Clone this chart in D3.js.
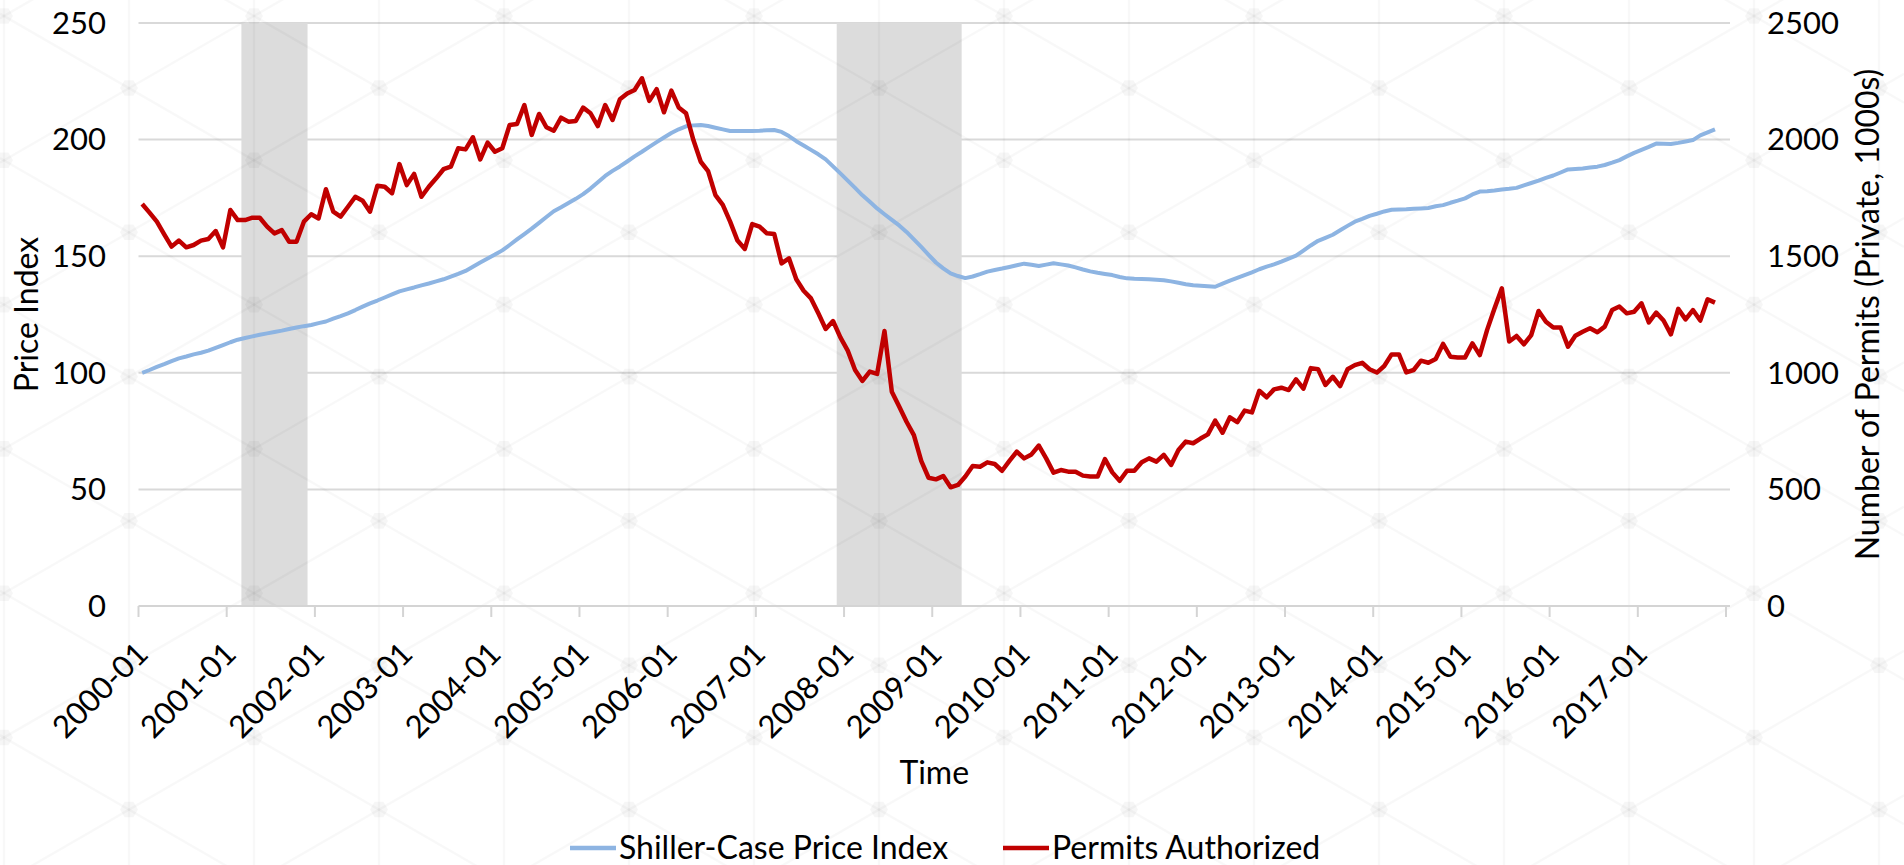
<!DOCTYPE html>
<html lang="en">
<head>
<meta charset="UTF-8">
<title>Shiller-Case Price Index vs Permits Authorized</title>
<style>
  body { margin: 0; background: #fff; }
  svg { display: block; font-family: Lato, "Noto Sans", sans-serif; }
  .tick-label { font-size: 31px; fill: #000; }
  .title { font-size: 32px; fill: #000; }
</style>
</head>
<body>
<svg width="1904" height="865"></svg>
<script src="https://d3js.org/d3.v7.min.js"></script>
<script>
const width = 1904, height = 865;

// monthly categories 2000-01 .. 2017-12 (last month has no data)
const months = [];
for (let y = 2000; y <= 2017; y++)
  for (let m = 1; m <= 12; m++) months.push(`${y}-${String(m).padStart(2, "0")}`);

// Shiller-Case price index (Jan 2000 = 100)
const priceIndex = [
  100.0, 101.2, 102.5, 103.7, 105.0, 106.2, 107.0, 107.9, 108.6, 109.5, 110.7, 111.9,
  113.1, 114.2, 114.9, 115.6, 116.3, 116.9, 117.5, 118.1, 118.8, 119.4, 120.0, 120.5,
  121.3, 122.0, 123.2, 124.3, 125.5, 126.9, 128.4, 129.8, 131.0, 132.3, 133.6, 134.9,
  135.8, 136.6, 137.5, 138.3, 139.2, 140.1, 141.2, 142.4, 143.7, 145.5, 147.3, 149.0,
  150.7, 152.5, 154.8, 157.2, 159.5, 161.8, 164.3, 166.8, 169.3, 171.0, 172.8, 174.6,
  176.6, 179.0, 181.7, 184.4, 186.6, 188.5, 190.6, 192.8, 194.8, 196.9, 198.9, 200.9,
  202.8, 204.4, 205.7, 206.1, 206.3, 205.8, 205.1, 204.4, 203.7, 203.7, 203.7, 203.7,
  203.8, 204.0, 204.1, 203.3, 201.5, 199.3, 197.5, 195.6, 193.7, 191.5, 188.5, 185.5,
  182.4, 179.3, 176.1, 173.3, 170.5, 168.0, 165.6, 163.2, 160.4, 157.2, 154.0, 150.6,
  147.3, 144.8, 142.6, 141.5, 140.6, 141.3, 142.3, 143.4, 144.1, 144.7, 145.4, 146.1,
  146.8, 146.3, 145.8, 146.4, 147.0, 146.5, 146.0, 145.2, 144.3, 143.5, 142.9, 142.4,
  141.9, 141.1, 140.5, 140.3, 140.2, 140.1, 139.9, 139.7, 139.2, 138.6, 138.0, 137.5,
  137.3, 137.1, 136.9, 138.2, 139.5, 140.7, 141.9, 143.1, 144.4, 145.5, 146.5, 147.7,
  149.0, 150.2, 152.4, 154.6, 156.6, 157.9, 159.2, 161.1, 163.0, 164.8, 166.0, 167.3,
  168.2, 169.2, 169.9, 170.0, 170.1, 170.3, 170.5, 170.7, 171.4, 171.9, 172.9, 173.8,
  174.8, 176.5, 177.7, 177.9, 178.2, 178.6, 178.9, 179.3, 180.4, 181.4, 182.4, 183.6,
  184.6, 185.9, 187.2, 187.4, 187.6, 188.0, 188.4, 189.1, 190.1, 191.2, 192.8, 194.3,
  195.6, 196.9, 198.3, 198.2, 198.1, 198.6, 199.2, 199.8, 201.8, 203.1, 204.4
];

// private housing permits authorized (thousands)
const permits = [
  1724, 1687, 1648, 1594, 1541, 1567, 1538, 1548, 1567, 1574, 1608, 1538,
  1698, 1655, 1655, 1665, 1665, 1627, 1598, 1612, 1562, 1562, 1648, 1680,
  1662, 1787, 1691, 1670, 1712, 1755, 1738, 1691, 1802, 1798, 1770, 1895,
  1805, 1853, 1755, 1798, 1834, 1873, 1884, 1963, 1958, 2010, 1915, 1987,
  1948, 1963, 2063, 2067, 2148, 2020, 2110, 2053, 2038, 2094, 2077, 2080,
  2137, 2113, 2058, 2148, 2084, 2173, 2198, 2213, 2263, 2166, 2216, 2117,
  2210, 2138, 2113, 1998, 1905, 1865, 1762, 1720, 1648, 1567, 1531, 1638,
  1627, 1598, 1595, 1469, 1491, 1401, 1352, 1319, 1255, 1188, 1222, 1152,
  1095, 1012, 965, 1005, 995, 1179, 919, 855, 790, 733, 622, 550,
  543, 557, 509, 519, 555, 600, 597, 616, 609, 580, 622, 662,
  633, 650, 688, 633, 572, 583, 576, 576, 559, 555, 555, 630,
  573, 537, 580, 580, 616, 633, 619, 648, 605, 669, 705, 698,
  718, 736, 795, 743, 809, 788, 838, 830, 923, 895, 929, 936,
  926, 972, 932, 1020, 1015, 948, 983, 943, 1015, 1033, 1043, 1015,
  1001, 1029, 1079, 1079, 1002, 1012, 1052, 1043, 1059, 1124, 1069, 1066,
  1066, 1126, 1076, 1184, 1276, 1362, 1134, 1158, 1122, 1162, 1265, 1219,
  1194, 1194, 1112, 1159, 1176, 1191, 1174, 1198, 1269, 1284, 1255, 1262,
  1298, 1216, 1258, 1224, 1165, 1274, 1229, 1269, 1224, 1315, 1301
];

const recessions = [["2001-03", "2001-11"], ["2007-12", "2009-04"]];
const leftTicks = [0, 50, 100, 150, 200, 250];
const rightTicks = [0, 500, 1000, 1500, 2000, 2500];
const seriesNames = ["Shiller-Case Price Index", "Permits Authorized"];
const seriesColors = ["#8db4e2", "#c00000"];

const svg = d3.select("svg");

const x = d3.scaleBand().domain(months).range([138.5, 1726]).padding(0);
const yL = d3.scaleLinear().domain([0, 250]).range([606, 23]);
const yR = d3.scaleLinear().domain([0, 2500]).range([606, 23]);
const plotRight = 1730;

// gridlines
svg.append("g").selectAll("line")
    .data(leftTicks.filter(t => t > 0))
    .enter().append("line")
    .attr("x1", x.range()[0]).attr("x2", plotRight)
    .attr("y1", d => yL(d)).attr("y2", d => yL(d))
    .attr("stroke", "#d9d9d9").attr("stroke-width", 2);

// recession shading
svg.append("g").selectAll("rect")
    .data(recessions)
    .enter().append("rect")
    .attr("x", d => x(d[0]))
    .attr("width", d => x(d[1]) + x.bandwidth() - x(d[0]))
    .attr("y", yL(250))
    .attr("height", yL(0) - yL(250))
    .attr("fill", "#dcdcdc");

// faint triangular watermark lattice
const bg = svg.append("g").attr("pointer-events", "none");
const colW = 125, rowH = 144.3, slope = (rowH / 2) / colW;
const lineOpacity = 0.028;
for (let cx = 4 - colW; cx < width + colW; cx += colW) {
    bg.append("line").attr("x1", cx).attr("x2", cx).attr("y1", 0).attr("y2", height)
        .attr("stroke", "#000").attr("stroke-opacity", lineOpacity).attr("stroke-width", 2.5);
}
for (let k = -20; k < 20; k++) {
    const c1 = 13.7 + rowH * k, c2 = 18.3 + rowH * k;
    bg.append("line").attr("x1", 0).attr("y1", c1).attr("x2", width).attr("y2", c1 + slope * width)
        .attr("stroke", "#000").attr("stroke-opacity", lineOpacity).attr("stroke-width", 2.5);
    bg.append("line").attr("x1", 0).attr("y1", c2).attr("x2", width).attr("y2", c2 - slope * width)
        .attr("stroke", "#000").attr("stroke-opacity", lineOpacity).attr("stroke-width", 2.5);
}
const hex = d3.range(6).map(a => [9 * Math.cos(a * Math.PI / 3), 9 * Math.sin(a * Math.PI / 3)]);
for (let i = -1; i < 17; i++) {
    const cx = 4 + colW * i;
    const y0 = (i % 2 === 0) ? 16 : 88;
    for (let cy = y0 - rowH; cy < height + rowH; cy += rowH) {
        bg.append("polygon")
            .attr("points", hex.map(p => [cx + p[0], cy + p[1]].join(",")).join(" "))
            .attr("fill", "#000").attr("fill-opacity", 0.035);
    }
}

// x axis line + ticks
const axis = svg.append("g");
axis.append("line")
    .attr("x1", x.range()[0]).attr("x2", plotRight)
    .attr("y1", yL(0)).attr("y2", yL(0))
    .attr("stroke", "#d4d4d4").attr("stroke-width", 2);

const tickPos = months.filter((d, i) => i % 12 === 0).map(d => x(d)).concat([x.range()[1]]);
axis.selectAll(".xtick")
    .data(tickPos)
    .enter().append("line")
    .attr("class", "xtick")
    .attr("x1", d => d).attr("x2", d => d)
    .attr("y1", yL(0)).attr("y2", yL(0) + 11)
    .attr("stroke", "#d4d4d4").attr("stroke-width", 2);

const labelMonths = months.filter((d, i) => i % 12 === 0 && i < permits.length);
axis.selectAll(".xlabel")
    .data(labelMonths)
    .enter().append("text")
    .attr("class", "tick-label")
    .attr("text-anchor", "end")
    .attr("dy", "0.35em")
    .attr("transform", d => `translate(${x(d) + x.bandwidth() / 2},648) rotate(-45)`)
    .text(d => d);

// y tick labels
axis.selectAll(".ylabelL")
    .data(leftTicks)
    .enter().append("text")
    .attr("class", "tick-label")
    .attr("text-anchor", "end")
    .attr("x", 106)
    .attr("y", d => yL(d))
    .attr("dy", "0.35em")
    .text(d => d);

axis.selectAll(".ylabelR")
    .data(rightTicks)
    .enter().append("text")
    .attr("class", "tick-label")
    .attr("text-anchor", "start")
    .attr("x", 1767)
    .attr("y", d => yR(d))
    .attr("dy", "0.35em")
    .text(d => d);

// axis titles
svg.append("text").attr("class", "title")
    .attr("text-anchor", "middle")
    .attr("transform", `translate(27,${(yL(0) + yL(250)) / 2}) rotate(-90)`)
    .attr("dy", "0.35em")
    .text("Price Index");

svg.append("text").attr("class", "title")
    .attr("text-anchor", "middle")
    .attr("transform", `translate(1868,${(yR(0) + yR(2500)) / 2}) rotate(-90)`)
    .attr("dy", "0.35em")
    .text("Number of Permits (Private, 1000s)");

svg.append("text").attr("class", "title")
    .attr("text-anchor", "middle")
    .attr("x", (x.range()[0] + plotRight) / 2)
    .attr("y", 784)
    .text("Time");

// series lines
const cx = (d, i) => x(months[i]) + x.bandwidth() / 2;

svg.append("path")
    .datum(priceIndex)
    .attr("fill", "none")
    .attr("stroke", seriesColors[0])
    .attr("stroke-width", 4)
    .attr("stroke-linejoin", "round")
    .attr("d", d3.line().x(cx).y(d => yL(d)));

svg.append("path")
    .datum(permits)
    .attr("fill", "none")
    .attr("stroke", seriesColors[1])
    .attr("stroke-width", 4.5)
    .attr("stroke-linejoin", "round")
    .attr("d", d3.line().x(cx).y(d => yR(d)));

// legend
const legendX = [570, 1003];
const legend = svg.append("g");
seriesNames.forEach((name, i) => {
    legend.append("line")
        .attr("x1", legendX[i]).attr("x2", legendX[i] + 46)
        .attr("y1", 848).attr("y2", 848)
        .attr("stroke", seriesColors[i]).attr("stroke-width", 4.5);
    legend.append("text").attr("class", "title")
        .attr("x", legendX[i] + 49)
        .attr("y", 848)
        .attr("dy", "0.35em")
        .text(name);
});
</script>
</body>
</html>
